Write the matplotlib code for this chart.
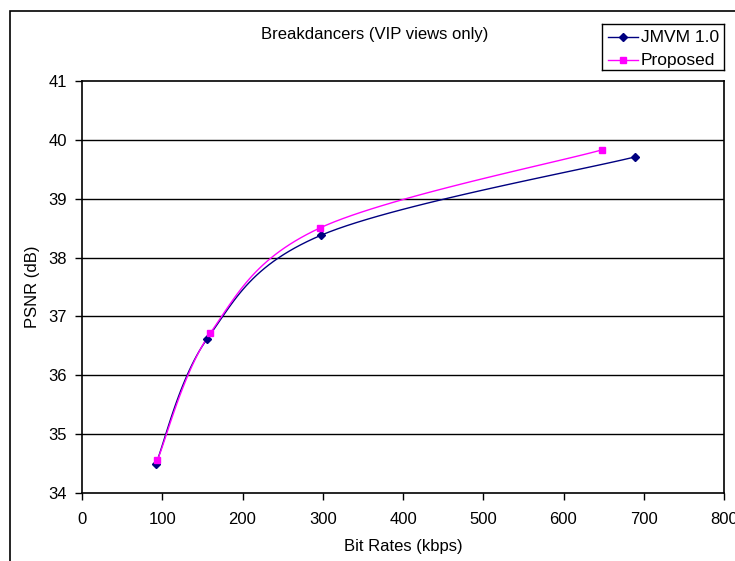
import numpy as np
import matplotlib
matplotlib.use("Agg")
import matplotlib.pyplot as plt
from matplotlib.patches import Rectangle

# bit rate (kbps) / PSNR (dB) for each coder
jmvm_rate = [92, 156, 298, 689]
jmvm_psnr = [34.49, 36.62, 38.38, 39.71]
prop_rate = [94, 160, 296, 648]
prop_psnr = [34.56, 36.72, 38.50, 39.83]

x_ticks = [0, 100, 200, 300, 400, 500, 600, 700, 800]
y_ticks = [34, 35, 36, 37, 38, 39, 40, 41]


def smooth(xs, ys, n=30):
    # spreadsheet-style smoothed line: cubic Bezier pieces, Catmull-Rom handles
    p = np.column_stack([xs, ys]).astype(float)
    out = []
    t = np.linspace(0, 1, n)[:, None]
    for i in range(len(p) - 1):
        p0 = p[i - 1] if i > 0 else p[i]
        p3 = p[i + 2] if i + 2 < len(p) else p[i + 1]
        c1 = p[i] + (p[i + 1] - p0) / 6.0
        c2 = p[i + 1] - (p3 - p[i]) / 6.0
        seg = ((1 - t) ** 3) * p[i] + 3 * ((1 - t) ** 2) * t * c1 \
            + 3 * (1 - t) * t ** 2 * c2 + t ** 3 * p[i + 1]
        out.append(seg if i == 0 else seg[1:])
    out = np.vstack(out)
    return out[:, 0], out[:, 1]


plt.rcParams['font.family'] = ['Liberation Sans', 'DejaVu Sans']
FS = 12

fig = plt.figure(figsize=(7.35, 5.61), dpi=100)
W, H = 735, 561
ax = fig.add_axes([82 / W, 1 - 493 / H, (724 - 82) / W, (493 - 81) / H])

# outer chart border, runs off the right and bottom edge
fig.patches.append(Rectangle((10 / W, -0.1), 1.2, 1 - 11 / H + 0.1,
                             transform=fig.transFigure, fill=False,
                             edgecolor='black', linewidth=1.2))

ax.set_xlim(0, 800)
ax.set_ylim(34, 41)
ax.set_xticks(x_ticks)
ax.set_yticks(y_ticks)
for y in y_ticks[1:-1]:
    ax.axhline(y, color='black', linewidth=1.0, zorder=1)

sx, sy = smooth(jmvm_rate, jmvm_psnr)
ax.plot(sx, sy, color='#000080', linewidth=1.0, zorder=3)
ax.plot(jmvm_rate, jmvm_psnr, linestyle='none', marker='D', markersize=4.5,
        color='#000080', zorder=4)
sx, sy = smooth(prop_rate, prop_psnr)
ax.plot(sx, sy, color='#FF00FF', linewidth=1.0, zorder=3)
ax.plot(prop_rate, prop_psnr, linestyle='none', marker='s', markersize=5,
        color='#FF00FF', zorder=4)

for s in ax.spines.values():
    s.set_linewidth(1.2)
ax.tick_params(axis='x', direction='out', length=5, width=1, labelsize=FS, pad=9)
ax.tick_params(axis='y', direction='out', length=5, width=1, labelsize=FS, pad=6)
ax.set_xlabel('Bit Rates (kbps)', fontsize=FS, labelpad=8)
ax.set_ylabel('PSNR (dB)', fontsize=FS, labelpad=6)

fig.text(375 / W, 1 - 35 / H, 'Breakdancers (VIP views only)', ha='center',
         va='center', fontsize=FS)

# legend
lax = fig.add_axes([602 / W, 1 - 70 / H, (724 - 602) / W, (70 - 24) / H])
lax.set_xlim(0, 122)
lax.set_ylim(46, 0)
lax.set_xticks([])
lax.set_yticks([])
for s in lax.spines.values():
    s.set_linewidth(1.0)
lax.plot([6, 36], [13, 13], color='#000080', linewidth=1.0)
lax.plot([21], [13], marker='D', markersize=4.5, color='#000080')
lax.text(39, 13, 'JMVM 1.0', va='center', fontsize=12.5)
lax.plot([6, 36], [36, 36], color='#FF00FF', linewidth=1.0)
lax.plot([21], [36], marker='s', markersize=5, color='#FF00FF')
lax.text(39, 36, 'Proposed', va='center', fontsize=12.5)

fig.savefig('out.png', dpi=100)
